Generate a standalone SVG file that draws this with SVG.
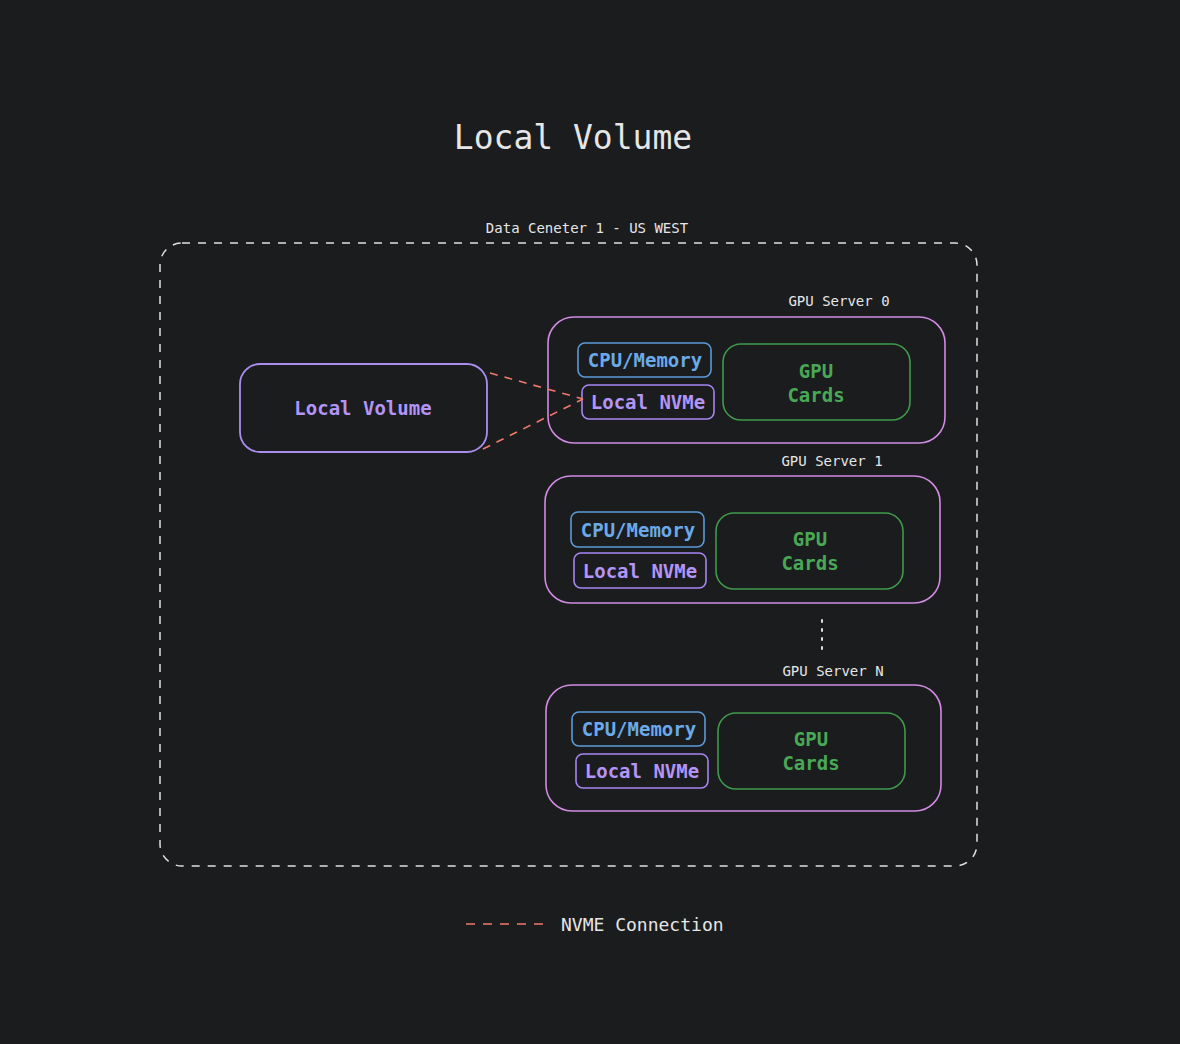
<svg xmlns="http://www.w3.org/2000/svg" width="1180" height="1044" viewBox="0 0 1180 1044">
<style>
text{font-family:"DejaVu Sans Mono","Liberation Mono",monospace}
.lbl{fill:#e6e6e6;font-size:14px}
.srv{fill:none;stroke:#d18be3;stroke-width:1.6}
.cpu{fill:none;stroke:#5c9ad6;stroke-width:1.6}
.nvme{fill:none;stroke:#a685f2;stroke-width:1.6}
.gpu{fill:none;stroke:#3f9a4b;stroke-width:1.6}
.tcpu{fill:#6aaae9;font-size:19px;font-weight:bold;text-anchor:middle}
.tnvme{fill:#b394f7;font-size:19px;font-weight:bold;text-anchor:middle}
.tgpu{fill:#49a855;font-size:19px;font-weight:bold;text-anchor:middle}
.conn{fill:none;stroke:#f0786c;stroke-width:1.6;stroke-dasharray:8 7}
</style>
<rect width="1180" height="1044" fill="#1b1c1e"/>
<text x="573" y="149" font-size="33" fill="#e6e6e6" text-anchor="middle">Local Volume</text>
<g id="datacenter">
<rect x="160" y="243" width="817" height="623" rx="22" fill="none" stroke="#e0e0e0" stroke-width="1.5" stroke-dasharray="8 8"/>
<text x="587" y="233" class="lbl" text-anchor="middle">Data Ceneter 1 - US WEST</text>
</g>
<g id="local-volume">
<rect x="240" y="364" width="247" height="88" rx="20" fill="none" stroke="#a98ef0" stroke-width="1.8"/>
<text x="363" y="415" font-size="19" font-weight="bold" fill="#b394f7" text-anchor="middle">Local Volume</text>
</g>
<g id="server0">
<text x="839" y="306" class="lbl" text-anchor="middle">GPU Server 0</text>
<rect class="srv" x="548" y="317" width="397" height="126" rx="26"/>
<rect class="cpu" x="578" y="343" width="133" height="34" rx="7"/>
<text class="tcpu" x="645" y="367">CPU/Memory</text>
<rect class="nvme" x="582" y="385" width="132" height="34" rx="7"/>
<text class="tnvme" x="648" y="409">Local NVMe</text>
<rect class="gpu" x="723" y="344" width="187" height="76" rx="18"/>
<text class="tgpu" x="816" y="378">GPU</text>
<text class="tgpu" x="816" y="402">Cards</text>
</g>
<g id="server1">
<text x="832" y="466" class="lbl" text-anchor="middle">GPU Server 1</text>
<rect class="srv" x="545" y="476" width="395" height="127" rx="26"/>
<rect class="cpu" x="571" y="512" width="133" height="35" rx="7"/>
<text class="tcpu" x="638" y="537">CPU/Memory</text>
<rect class="nvme" x="574" y="553" width="132" height="35" rx="7"/>
<text class="tnvme" x="640" y="578">Local NVMe</text>
<rect class="gpu" x="716" y="513" width="187" height="76" rx="18"/>
<text class="tgpu" x="810" y="546">GPU</text>
<text class="tgpu" x="810" y="570">Cards</text>
</g>
<g id="dots">
<line x1="822" y1="620" x2="822" y2="652" stroke="#e0e0e0" stroke-width="2" stroke-dasharray="2 7" stroke-linecap="round"/>
</g>
<g id="serverN">
<text x="833" y="676" class="lbl" text-anchor="middle">GPU Server N</text>
<rect class="srv" x="546" y="685" width="395" height="126" rx="26"/>
<rect class="cpu" x="572" y="712" width="133" height="34" rx="7"/>
<text class="tcpu" x="639" y="736">CPU/Memory</text>
<rect class="nvme" x="576" y="754" width="132" height="34" rx="7"/>
<text class="tnvme" x="642" y="778">Local NVMe</text>
<rect class="gpu" x="718" y="713" width="187" height="76" rx="18"/>
<text class="tgpu" x="811" y="746">GPU</text>
<text class="tgpu" x="811" y="770">Cards</text>
</g>
<g id="connectors">
<path class="conn" d="M490 373 L583 399"/>
<path class="conn" d="M483 449 L583 399"/>
</g>
<g id="legend">
<line x1="466" y1="924" x2="546" y2="924" stroke="#f0786c" stroke-width="1.6" stroke-dasharray="9 8"/>
<text x="561" y="931" font-size="18" fill="#e6e6e6">NVME Connection</text>
</g>
</svg>
